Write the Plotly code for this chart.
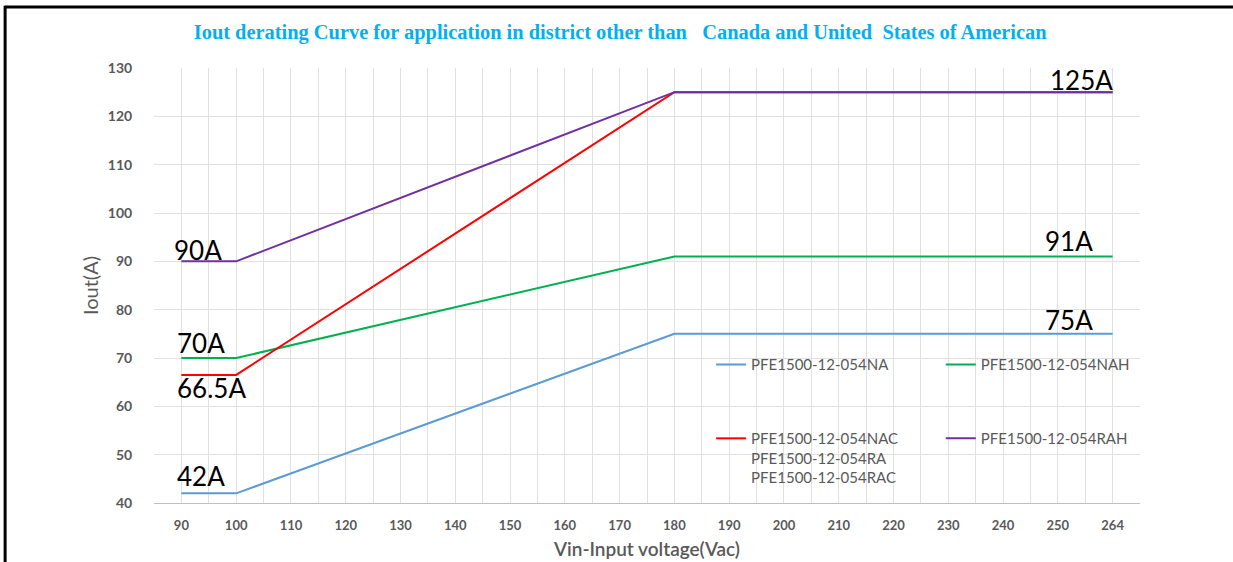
import plotly.graph_objects as go

voltages = ["90", "100", "110", "120", "130", "140", "150", "160", "170",
            "180", "190", "200", "210", "220", "230", "240", "250", "264"]

# break points of each derating curve (Vin, Iout)
na_x = ["90", "100", "180", "264"]
na_y = [42, 42, 75, 75]
nah_x = ["90", "100", "180", "264"]
nah_y = [70, 70, 91, 91]
nac_x = ["90", "100", "180", "264"]
nac_y = [66.5, 66.5, 125, 125]
rah_x = ["90", "100", "180", "264"]
rah_y = [90, 90, 125, 125]

label_text = ["125A", "91A", "75A", "90A", "70A", "66.5A", "42A"]
label_x = ["250", "250", "250", "90", "90", "90", "90"]
label_y = [125, 91, 75, 90, 70, 66.5, 42]

GRAY = "#595959"
GRID = "#E0E0E0"

fig = go.Figure()
series = [
    (na_x, na_y, "PFE1500-12-054NA", "#5B9BD5", "legend"),
    (nah_x, nah_y, "PFE1500-12-054NAH", "#00B050", "legend2"),
    (nac_x, nac_y, "PFE1500-12-054NAC<br>PFE1500-12-054RA<br>PFE1500-12-054RAC", "#FF0000", "legend3"),
    (rah_x, rah_y, "PFE1500-12-054RAH", "#7030A0", "legend4"),
]
for xs, ys, name, color, lg in series:
    fig.add_trace(go.Scatter(x=xs, y=ys, mode="lines", name=name,
                             line=dict(color=color, width=2), legend=lg))

# value labels (category axis positions given by serial number)
offsets = {"125A": (-10, 12), "91A": (-15, 16), "75A": (-15, 14),
           "90A": (-9, 11), "70A": (-6, 15), "66.5A": (-6, -13), "42A": (-6, 17)}
for t, x, y in zip(label_text, label_x, label_y):
    dx, dy = offsets[t]
    fig.add_annotation(x=voltages.index(x), y=y, xref="x", yref="y", text=t,
                       showarrow=False, xanchor="left", yanchor="middle",
                       xshift=dx, yshift=dy,
                       font=dict(family="Lato", size=26, color="black"))

leg_font = dict(family="Lato", size=15, color=GRAY)
def leg(x, y):
    return dict(x=x, y=y, xref="paper", yref="paper", xanchor="left", yanchor="top",
                bgcolor="rgba(0,0,0,0)", font=leg_font, valign="top",
                itemwidth=30, tracegroupgap=0)

fig.update_layout(
    width=1233, height=562,
    paper_bgcolor="white", plot_bgcolor="white",
    margin=dict(l=154, r=93, t=68, b=59, autoexpand=False),
    title=dict(text="Iout derating Curve for application in district other than\u00a0  Canada and United\u00a0 States of American",
               x=0.503, xanchor="center", y=0.944, yanchor="middle",
               font=dict(family="Liberation Serif", size=20.4, color="#00B0F0", weight="bold")),
    legend=leg(0.565, 0.356),
    legend2=leg(0.798, 0.356),
    legend3=leg(0.565, 0.186),
    legend4=leg(0.798, 0.186),
    xaxis=dict(type="category", categoryorder="array", categoryarray=voltages,
               range=[-0.5, len(voltages) - 0.5], showgrid=True, gridcolor=GRID,
               showline=True, linecolor="#BFBFBF", linewidth=1, automargin=False,
               ticks="outside", ticklen=10, tickcolor="rgba(0,0,0,0)",
               tickfont=dict(family="Lato", size=13, color=GRAY, weight="bold"),
               title=dict(text="Vin-Input voltage(Vac)", standoff=11,
                          font=dict(family="Lato", size=19, color=GRAY, weight=600))),
    xaxis2=dict(type="category", categoryorder="array", categoryarray=voltages,
                range=[-0.5, len(voltages) - 0.5], overlaying="x", side="bottom",
                tickson="boundaries", showgrid=True, gridcolor=GRID, automargin=False,
                showticklabels=False, ticks="", showline=False),
    yaxis=dict(range=[40, 130], dtick=10, showgrid=True, gridcolor=GRID,
               zeroline=False, ticks="outside", ticklen=18, tickcolor="rgba(0,0,0,0)",
               automargin=False,
               tickfont=dict(family="Lato", size=14, color=GRAY, weight="bold"),
               title=dict(text="Iout(A)", standoff=3,
                          font=dict(family="Lato", size=20, color=GRAY))),
)

# invisible trace so the boundary grid axis gets drawn
fig.add_trace(go.Scatter(x=voltages[:1], y=[40], xaxis="x2", mode="markers",
                         marker=dict(opacity=0), showlegend=False, hoverinfo="skip"))

# picture frame: top and left edges only
fig.add_shape(type="line", xref="paper", yref="paper", x0=-0.151, x1=1.0943, y0=1.140, y1=1.140,
              line=dict(color="black", width=3), layer="above")
fig.add_shape(type="line", xref="paper", yref="paper", x0=-0.151, x1=-0.151, y0=-0.15, y1=1.143,
              line=dict(color="black", width=3), layer="above")

fig.write_html("out.html", config={"displayModeBar": False},
               post_script="document.body.style.margin='0';"
                           "document.documentElement.style.overflow='hidden';"
                           "document.body.style.overflow='hidden';")
